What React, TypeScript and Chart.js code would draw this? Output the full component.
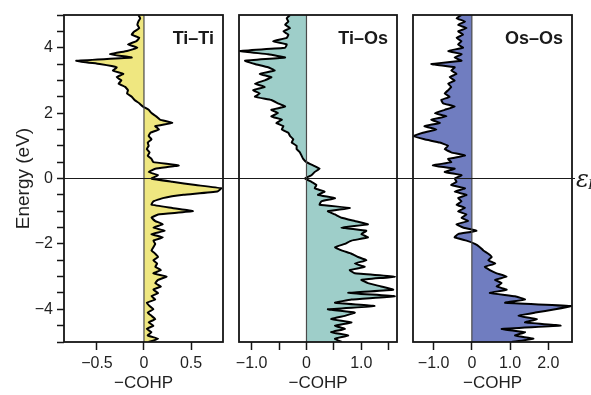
import React, { useEffect, useRef } from 'react';
import { Chart, registerables } from 'chart.js';

Chart.register(...registerables);

// Energy grid (eV), top to bottom
const energies = [
  5.0, 4.9, 4.8, 4.7, 4.6, 4.5, 4.4, 4.3, 4.2, 4.1,
  4.0, 3.9, 3.8, 3.7, 3.6, 3.5, 3.4, 3.3, 3.2, 3.1,
  3.0, 2.9, 2.8, 2.7, 2.6, 2.5, 2.4, 2.3, 2.2, 2.1,
  2.0, 1.9, 1.8, 1.7, 1.6, 1.5, 1.4, 1.3, 1.2, 1.1,
  1.0, 0.9, 0.8, 0.7, 0.6, 0.5, 0.4, 0.3, 0.2, 0.1,
  0.0, -0.1, -0.2, -0.3, -0.4, -0.5, -0.6, -0.7, -0.8, -0.9,
  -1.0, -1.1, -1.2, -1.3, -1.4, -1.5, -1.6, -1.7, -1.8, -1.9,
  -2.0, -2.1, -2.2, -2.3, -2.4, -2.5, -2.6, -2.7, -2.8, -2.9,
  -3.0, -3.1, -3.2, -3.3, -3.4, -3.5, -3.6, -3.7, -3.8, -3.9,
  -4.0, -4.1, -4.2, -4.3, -4.4, -4.5, -4.6, -4.7, -4.8, -4.9,
  -5.0,
];

// -COHP values
const tiTiValues = [
  -0.06, -0.04, -0.06, -0.07, -0.05, -0.10, -0.13, -0.05, -0.08, -0.17,
  -0.07, -0.18, -0.36, -0.13, -0.72, -0.47, -0.29, -0.33, -0.22, -0.29,
  -0.24, -0.27, -0.20, -0.17, -0.18, -0.13, -0.10, -0.05, -0.01, 0.05,
  0.08, 0.13, 0.17, 0.30, 0.12, 0.16, 0.07, 0.05, 0.08, 0.04,
  0.05, 0.03, 0.06, 0.04, 0.08, 0.10, 0.37, 0.12, 0.05, 0.15,
  0.08, 0.30, 0.55, 0.82, 0.78, 0.42, 0.20, 0.10, 0.08, 0.30,
  0.52, 0.15, 0.08, 0.12, 0.20, 0.10, 0.22, 0.08, 0.20, 0.10,
  0.12, 0.10, 0.08, 0.12, 0.15, 0.10, 0.14, 0.12, 0.18, 0.10,
  0.24, 0.15, 0.12, 0.18, 0.10, 0.15, 0.08, 0.12, 0.03, 0.06,
  0.10, 0.04, 0.08, 0.12, 0.05, 0.10, 0.03, 0.08, 0.04, 0.15,
  0.05,
];

const tiOsValues = [
  -0.30, -0.36, -0.33, -0.39, -0.30, -0.42, -0.33, -0.36, -0.61, -0.36,
  -0.39, -1.22, -0.70, -0.39, -1.12, -0.94, -0.70, -0.58, -0.85, -0.64,
  -0.76, -0.94, -0.76, -0.97, -0.85, -0.94, -0.64, -0.52, -0.39, -0.64,
  -0.52, -0.64, -0.45, -0.55, -0.42, -0.45, -0.33, -0.30, -0.24, -0.27,
  -0.18, -0.18, -0.12, -0.09, -0.06, 0.0, 0.12, 0.24, 0.15, 0.09,
  -0.03, 0.09, 0.18, 0.15, 0.33, 0.21, 0.52, 0.27, 0.24, 0.79,
  0.39, 0.52, 0.64, 0.88, 1.12, 0.64, 1.09, 1.0, 1.12, 0.82,
  0.70, 0.52, 0.64, 0.82, 0.94, 1.09, 0.88, 1.06, 0.79, 0.88,
  1.61, 1.0, 1.12, 1.36, 1.58, 0.76, 1.61, 0.82, 0.52, 1.24,
  0.39, 0.88, 0.70, 0.45, 0.82, 0.52, 0.70, 0.45, 0.76, 0.52,
  0.64,
];

const osOsValues = [
  -0.27, -0.40, -0.18, -0.36, -0.14, -0.36, -0.23, -0.40, -0.27, -0.36,
  -0.23, -0.62, -0.27, -0.45, -0.27, -1.06, -0.45, -0.54, -0.40, -0.58,
  -0.45, -0.62, -0.54, -0.62, -0.71, -0.58, -0.80, -0.75, -0.45, -0.71,
  -0.97, -0.67, -1.06, -0.84, -1.24, -0.93, -1.28, -1.52, -1.24, -0.84,
  -0.62, -0.71, -0.54, -0.18, -0.62, -0.54, -1.02, -0.45, -0.71, -0.27,
  -0.45, -0.40, -0.54, -0.18, -0.45, -0.14, -0.36, -0.27, -0.40, -0.18,
  -0.36, -0.14, -0.27, -0.10, -0.40, -0.23, 0.12, -0.36, -0.45, -0.14,
  0.08, 0.21, 0.30, 0.43, 0.52, 0.43, 0.61, 0.34, 0.47, 0.65,
  0.91, 0.61, 0.78, 0.65, 0.91, 0.47, 1.13, 1.39, 0.87, 2.62,
  2.18, 1.66, 1.22, 1.70, 1.39, 2.32, 0.78, 1.39, 1.13, 1.61,
  1.04,
];

// Tick values / labels
const yTickValues = [
  -5, -4.5, -4, -3.5, -3, -2.5, -2, -1.5, -1, -0.5, 0,
  0.5, 1, 1.5, 2, 2.5, 3, 3.5, 4, 4.5, 5,
];
const yLabelledTicks = [-4, -2, 0, 2, 4];
const yLabelTexts = ['−4', '−2', '0', '2', '4'];

const xTicksTiTi = [-0.5, 0, 0.5];
const xLabelsTiTi = ['−0.5', '0', '0.5'];
const xTicksTiOs = [-1.0, -0.5, 0, 0.5, 1.0, 1.5];
const xLabelsTiOs = ['−1.0', '', '0', '', '1.0', ''];
const xTicksOsOs = [-1.0, 0, 1.0, 2.0];
const xLabelsOsOs = ['−1.0', '0', '1.0', '2.0'];

const panelTitles = ['Ti–Ti', 'Ti–Os', 'Os–Os'];
const xAxisTitle = '−COHP';
const yAxisTitle = 'Energy (eV)';
const fermiLabel = 'ε';
const fermiSub = 'F';

const W = 591;
const H = 395;
const FONT = '"Liberation Sans", Arial, sans-serif';

const panels = [
  { title: panelTitles[0], values: tiTiValues, fill: 'rgb(239, 231, 128)', min: -0.85, max: 0.84, ticks: xTicksTiTi, labels: xLabelsTiTi, left: 64, right: 223, showY: true, fermi: false },
  { title: panelTitles[1], values: tiOsValues, fill: 'rgb(158, 206, 201)', min: -1.23, max: 1.65, ticks: xTicksTiOs, labels: xLabelsTiOs, left: 239, right: 397, showY: false, fermi: false },
  { title: panelTitles[2], values: osOsValues, fill: 'rgb(112, 125, 192)', min: -1.54, max: 2.62, ticks: xTicksOsOs, labels: xLabelsOsOs, left: 413, right: 572, showY: false, fermi: true },
];

const decorPlugin = {
  id: 'panelDecor',
  afterDatasetsDraw(chart: any, _args: any, opts: any) {
    const { ctx, chartArea: a, scales } = chart;
    const x0 = scales.x.getPixelForValue(0);
    ctx.save();
    ctx.strokeStyle = '#4a4a4a';
    ctx.lineWidth = 1.2;
    ctx.beginPath();
    ctx.moveTo(x0, a.top);
    ctx.lineTo(x0, a.bottom);
    ctx.stroke();

    ctx.strokeStyle = '#151515';
    ctx.lineWidth = 1.8;
    ctx.strokeRect(a.left, a.top, a.right - a.left, a.bottom - a.top);

    ctx.fillStyle = '#1a1a1a';
    ctx.font = `bold 18px ${FONT}`;
    ctx.textAlign = 'right';
    ctx.textBaseline = 'alphabetic';
    ctx.fillText(opts.title, a.right - 9, a.top + 29);

    if (opts.fermi) {
      const y0 = scales.y.getPixelForValue(0);
      ctx.strokeStyle = '#1a1a1a';
      ctx.lineWidth = 1.2;
      ctx.beginPath();
      ctx.moveTo(opts.lineStart, y0);
      ctx.lineTo(575, y0);
      ctx.stroke();
      ctx.font = 'italic 24px "DejaVu Serif", "Liberation Serif", serif';
      ctx.textAlign = 'left';
      ctx.fillText(fermiLabel, 576, y0 + 8);
      ctx.font = 'italic 15px "Liberation Serif", serif';
      ctx.fillText(fermiSub, 588, y0 + 10);
    }
    ctx.restore();
  },
};

function Panel({ p }: { p: any }) {
  const ref = useRef<HTMLCanvasElement>(null);
  useEffect(() => {
    if (!ref.current) return;
    const chart = new Chart(ref.current, {
      type: 'line',
      data: {
        datasets: [
          {
            data: energies.map((e, i) => ({ x: p.values[i], y: e })),
            borderColor: '#000',
            borderWidth: 2,
            backgroundColor: p.fill,
            fill: 'origin',
            pointRadius: 0,
            tension: 0.1,
          },
        ],
      },
      options: {
        indexAxis: 'y',
        animation: false,
        responsive: false,
        maintainAspectRatio: false,
        events: [],
        layout: {
          padding: { left: p.showY ? 0 : p.left, right: W - p.right, top: 15, bottom: 0 },
        },
        plugins: {
          legend: { display: false },
          tooltip: { enabled: false },
          panelDecor: { title: p.title, fermi: p.fermi, lineStart: panels[0].left },
        } as any,
        scales: {
          x: {
            type: 'linear',
            position: 'bottom',
            min: p.min,
            max: p.max,
            afterBuildTicks: (s: any) => {
              s.ticks = p.ticks.map((v: number) => ({ value: v }));
            },
            afterFit: (s: any) => {
              s.height = H - 342;
            },
            grid: { drawOnChartArea: false, drawTicks: true, tickLength: 8, tickWidth: 1.5, tickColor: '#151515' },
            border: { display: false },
            ticks: {
              autoSkip: false,
              maxRotation: 0,
              padding: 4,
              color: '#1f1f1f',
              font: { family: FONT, size: 16 },
              callback: (v: any) => {
                const i = p.ticks.indexOf(Number(v));
                return i >= 0 ? p.labels[i] : '';
              },
            },
            title: {
              display: true,
              text: xAxisTitle,
              color: '#1f1f1f',
              font: { family: FONT, size: 17 },
              padding: { top: 0, bottom: 1 },
            },
          },
          y: {
            type: 'linear',
            display: p.showY,
            min: -5,
            max: 5,
            afterBuildTicks: (s: any) => {
              s.ticks = yTickValues.map((v) => ({ value: v }));
            },
            afterFit: (s: any) => {
              s.width = p.showY ? p.left : 0;
            },
            grid: { drawOnChartArea: false, drawTicks: true, tickLength: 7, tickWidth: 1.5, tickColor: '#151515' },
            border: { display: false },
            ticks: {
              autoSkip: false,
              padding: 4,
              color: '#1f1f1f',
              font: { family: FONT, size: 16 },
              callback: (v: any) => {
                const i = yLabelledTicks.indexOf(Number(v));
                return i >= 0 ? yLabelTexts[i] : '';
              },
            },
            title: {
              display: true,
              text: yAxisTitle,
              color: '#1f1f1f',
              font: { family: FONT, size: 19 },
              padding: { top: 12, bottom: 0 },
            },
          },
        },
      },
      plugins: [decorPlugin],
    } as any);
    return () => chart.destroy();
  }, []);
  return (
    <canvas
      ref={ref}
      width={W}
      height={H}
      style={{ position: 'absolute', left: 0, top: 0, width: W, height: H }}
    />
  );
}

export default function App() {
  return (
    <div style={{ position: 'fixed', left: 0, top: 0, width: W, height: H, background: '#fff', overflow: 'hidden' }}>
      {panels.map((p, i) => (
        <Panel key={i} p={p} />
      ))}
    </div>
  );
}
